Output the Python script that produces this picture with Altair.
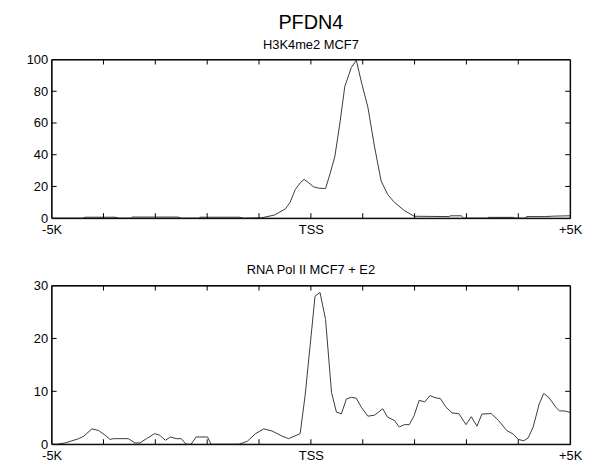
import altair as alt
import pandas as pd

# ---- data ----
top_pos = [-5000, -4400, -4350, -3775, -3700, -3460, -3450, -2566, -2500, -2150, -2140, -1386,
           -1300, -952, -700, -493, -400, -302, -200, -130, -50, 48, 150, 283, 370, 463, 560,
           654, 780, 876, 980, 1099, 1228, 1354, 1480, 1610, 1801, 1992, 2661, 2700, 2900, 2950,
           3400, 3426, 3904, 3950, 4150, 4159, 4500, 4700, 5000]
top_val = [0, 0, 0.6, 0.6, 0, 0, 0.7, 0.7, 0, 0, 0.6, 0.6,
           0, 0.2, 2, 5.8, 10, 18, 22.5, 24.4, 22.5, 19.8, 18.9, 18.7, 28, 39, 60,
           83, 95, 99.6, 85, 70, 45, 23.5, 15, 10, 4.8, 1.2, 1.0, 1.5, 1.5, 0,
           0, 0.5, 0.5, 0, 0, 1.0, 1.0, 1.3, 1.5]

bot_pos = [-5000, -4891, -4732, -4478, -4382, -4222, -4096, -3967, -3872, -3809, -3522, -3394,
           -3298, -3170, -3012, -2916, -2807, -2706, -2597, -2501, -2406, -2310, -2214, -1992,
           -1927, -1386, -1227, -1067, -908, -749, -558, -430, -207, -111, -15, 80, 176, 283,
           398, 493, 589, 685, 780, 876, 972, 1099, 1228, 1386, 1482, 1610, 1706, 1801, 1897,
           1992, 2088, 2195, 2298, 2394, 2501, 2597, 2725, 2853, 2992, 3094, 3203, 3298, 3477,
           3618, 3776, 3904, 4000, 4107, 4191, 4287, 4402, 4490, 4585, 4732, 4796, 4891, 5000]
bot_val = [0, 0, 0.25, 1.05, 1.5, 2.9, 2.6, 1.7, 0.9, 1.05, 1.05, 0.25,
           0.25, 1.05, 2.0, 1.7, 0.75, 1.37, 1.05, 1.05, 0, 0, 1.37, 1.37,
           0, 0, 0.55, 2.0, 2.9, 2.5, 1.55, 1.05, 2.0, 9.2, 18.6, 28, 28.7, 23.6,
           9.8, 6.06, 5.75, 8.56, 8.87, 8.7, 7.0, 5.3, 5.5, 6.7, 5.1, 4.5, 3.25, 3.7, 3.7,
           5.4, 8.3, 8.0, 9.2, 8.8, 8.6, 7.1, 5.9, 5.8, 3.7, 5.2, 3.4, 5.7, 5.8,
           4.5, 2.6, 1.9, 0.9, 0.65, 1.2, 3.25, 7.55, 9.6, 8.9, 6.9, 6.3, 6.3, 6.0]

x_ticks = [-4000, -3000, -2000, -1000, 0, 1000, 2000, 3000, 4000]
x_labels = [-5000, 0, 5000]
top_yticks = [0, 20, 40, 60, 80, 100]
bot_yticks = [0, 10, 20, 30]

W, H = 523, 160
FONT = "Liberation Sans"
LINE = "#3a3a3a"


def panel(pos, val, ymax, yticks, title):
    df = pd.DataFrame({"x": pos, "y": val})
    xt = pd.DataFrame({"x": x_ticks})
    yt = pd.DataFrame({"y": [v for v in yticks if 0 < v < ymax]})
    one = pd.DataFrame({"k": [0]})
    xscale = alt.Scale(domain=[-5000, 5000], nice=False, zero=False)
    yscale = alt.Scale(domain=[0, ymax], nice=False)
    xaxis = alt.Axis(values=x_labels, ticks=False, domain=False, grid=False,
                     labelExpr="datum.value == 0 ? 'TSS' : (datum.value < 0 ? '-5K' : '+5K')",
                     labelFont=FONT, labelFontSize=13, labelColor="#000", labelPadding=5,
                     labelFlush=False, title=None)
    yaxis = alt.Axis(values=yticks, ticks=False, domain=False, grid=False,
                     labelFont=FONT, labelFontSize=13, labelColor="#000", labelPadding=4,
                     minExtent=38, title=None)
    X = alt.X("x:Q", scale=xscale, axis=xaxis)
    Y = alt.Y("y:Q", scale=yscale, axis=yaxis)

    line = alt.Chart(df).mark_line(color=LINE, strokeWidth=1, interpolate="linear").encode(x=X, y=Y)
    tk = dict(color="#000", strokeWidth=1)
    xt_top = alt.Chart(xt).mark_rule(**tk).encode(x=X, y=alt.value(0), y2=alt.value(5))
    xt_bot = alt.Chart(xt).mark_rule(**tk).encode(x=X, y=alt.value(H), y2=alt.value(H - 5))
    yt_l = alt.Chart(yt).mark_rule(**tk).encode(y=Y, x=alt.value(0), x2=alt.value(5))
    yt_r = alt.Chart(yt).mark_rule(**tk).encode(y=Y, x=alt.value(W), x2=alt.value(W - 5))
    e_top = alt.Chart(one).mark_rule(**tk).encode(x=alt.value(0), x2=alt.value(W), y=alt.value(0))
    e_bot = alt.Chart(one).mark_rule(**tk).encode(x=alt.value(0), x2=alt.value(W), y=alt.value(H))
    e_lft = alt.Chart(one).mark_rule(**tk).encode(x=alt.value(0), y=alt.value(0), y2=alt.value(H))
    e_rgt = alt.Chart(one).mark_rule(**tk).encode(x=alt.value(W), y=alt.value(0), y2=alt.value(H))
    return alt.layer(line, xt_top, xt_bot, yt_l, yt_r, e_top, e_bot, e_lft, e_rgt).properties(
        width=W, height=H, title=title)


top = panel(top_pos, top_val, 100, top_yticks,
            alt.TitleParams(text="PFDN4", subtitle="H3K4me2 MCF7", font=FONT, fontSize=20,
                            fontWeight="normal", color="#000", subtitleFont=FONT,
                            subtitleFontSize=13, subtitleColor="#000", subtitlePadding=6,
                            anchor="middle", frame="group", offset=2))
bot = panel(bot_pos, bot_val, 30, bot_yticks,
            alt.TitleParams(text="RNA Pol II MCF7 + E2", font=FONT, fontSize=13,
                            fontWeight="normal", color="#000", anchor="middle",
                            frame="group", offset=3))

chart = alt.vconcat(top, bot, spacing=26).properties(
    padding={"left": 5, "top": 2, "right": 2, "bottom": 2}, background="white"
).configure_view(stroke="#000", strokeWidth=1)

chart.save("out.html", embed_options={"renderer": "svg", "actions": False})
